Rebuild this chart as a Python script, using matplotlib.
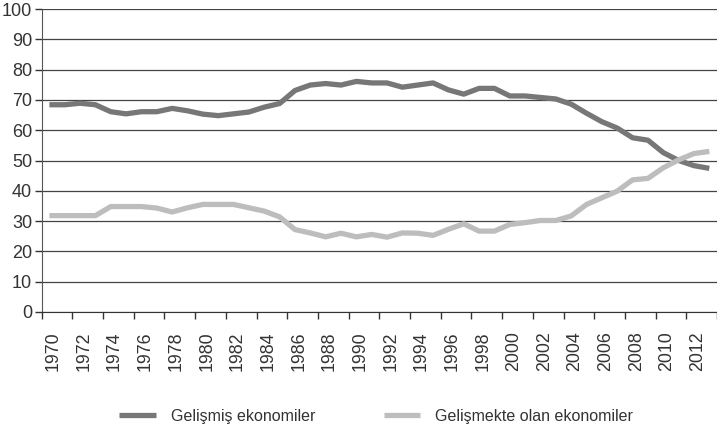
import numpy as np
import matplotlib
matplotlib.use("Agg")
import matplotlib.pyplot as plt

years = np.arange(1970, 2014)

gelismis = [68.4, 68.4, 68.9, 68.4, 66.1, 65.4, 66.1, 66.1, 67.2, 66.4,
            65.3, 64.8, 65.4, 66.0, 67.6, 68.8, 73.1, 74.9, 75.4, 74.9,
            76.1, 75.6, 75.6, 74.2, 74.9, 75.6, 73.3, 71.9, 73.8, 73.8,
            71.3, 71.3, 70.8, 70.3, 68.6, 65.6, 62.8, 60.7, 57.5, 56.7,
            52.6, 50.0, 48.3, 47.4]

gelismekte = [31.8, 31.8, 31.8, 31.8, 34.8, 34.8, 34.8, 34.3, 33.0, 34.4,
              35.5, 35.5, 35.5, 34.4, 33.3, 31.4, 27.2, 26.1, 24.8, 26.0,
              24.8, 25.6, 24.7, 26.1, 26.0, 25.3, 27.3, 29.1, 26.7, 26.7,
              28.9, 29.5, 30.2, 30.2, 31.7, 35.5, 37.7, 39.9, 43.6, 44.1,
              47.6, 50.2, 52.3, 53.0]

label_years = years[::2]

plt.rcParams['font.family'] = ['Liberation Sans', 'DejaVu Sans']
txt = '#333333'

fig = plt.figure(figsize=(7.17, 4.30), dpi=100)
ax = fig.add_axes([41.7/717, 1-312/430, 1-41.7/717, 303/430])

ax.plot(years, gelismis, color='#777777', lw=3.8, label='Gelişmiş ekonomiler',
        solid_capstyle='butt', solid_joinstyle='round')
ax.plot(years, gelismekte, color='#bdbdbd', lw=3.8, label='Gelişmekte olan ekonomiler',
        solid_capstyle='butt', solid_joinstyle='round')

ax.set_ylim(0, 100)
ax.set_yticks(np.arange(0, 101, 10))
ax.set_xlim(1969.5, 1969.5 + (717-41.7)/15.43)

ax.set_xticks(np.arange(1969.5, 2014, 2))
ax.set_xticklabels([])
ax.set_xticks(label_years + 0.25, minor=True)
ax.set_xticklabels([str(y) for y in label_years], minor=True, rotation=90,
                   fontsize=12.8, color=txt)
ax.tick_params(axis='x', which='major', length=5, width=1, color='#333333', direction='out')
ax.tick_params(axis='x', which='minor', length=0, pad=14)
ax.tick_params(axis='y', length=5, width=1, color='#333333', labelsize=13,
               labelcolor=txt, pad=2)

ax.grid(axis='y', color='#444444', lw=0.9)
ax.set_axisbelow(True)
for s in ['top', 'right']:
    ax.spines[s].set_visible(False)
ax.spines['left'].set_color('#555555')
ax.spines['bottom'].set_color('#333333')

fig.legend(loc='center', bbox_to_anchor=(376/717, 1-416/430), ncol=2, frameon=False,
           handlelength=2.3, handletextpad=0.9, columnspacing=4.3,
           labelcolor=txt, prop={'family': ['Liberation Sans', 'DejaVu Sans'], 'size': 11.5})

fig.savefig('out.png', dpi=100)
